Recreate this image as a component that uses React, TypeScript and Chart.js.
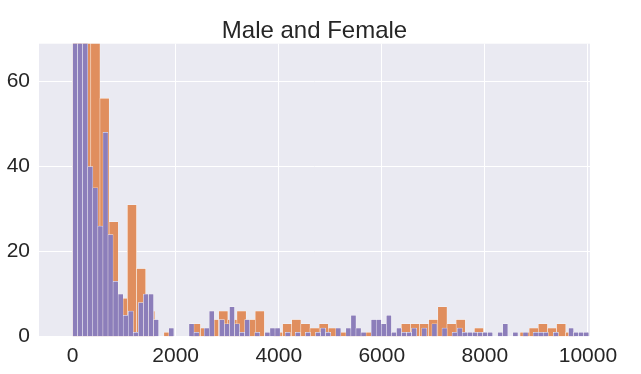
import React, { useEffect, useRef } from "react";
import { Chart, registerables } from "chart.js";

Chart.register(...registerables);

const TITLE = "Male and Female";
const X_TICKS = [0, 2000, 4000, 6000, 8000, 10000];
const Y_TICKS = [0, 20, 40, 60];
const X_MIN = -652;
const X_MAX = 10040;
const Y_MIN = 0;
const Y_MAX = 68.85;

// orange histogram (wider bins)
const ORANGE_BIN_START = 0;
const ORANGE_BIN_WIDTH = 177.2;
const ORANGE_COUNTS = [
  140, 95, 75, 56, 27, 9, 31, 16, 6, 0,
  1, 0, 0, 3, 2, 4, 6, 4, 6, 4,
  6, 0, 1, 3, 4, 3, 2, 3, 2, 1,
  1, 1, 1, 2, 1, 1, 3, 3, 3, 4,
  7, 3, 4, 0, 2, 0, 0, 0, 0, 1,
  2, 3, 2, 3, 1, 0, 0,
];

// purple histogram (narrower bins)
const PURPLE_BIN_START = 0;
const PURPLE_BIN_WIDTH = 98.2;
const PURPLE_COUNTS = [
  150, 110, 75, 40, 35, 26, 48, 24, 13, 10,
  5, 6, 1, 8, 10, 10, 4, 0, 0, 2,
  0, 0, 0, 3, 1, 0, 2, 6, 0, 4,
  3, 7, 3, 1, 4, 0, 1, 0, 1, 2,
  2, 0, 1, 0, 1, 0, 1, 0, 1, 2,
  1, 0, 2, 0, 2, 5, 2, 1, 0, 4,
  4, 3, 5, 1, 2, 1, 1, 2, 0, 2,
  0, 3, 0, 2, 0, 1, 2, 1, 1, 1,
  1, 1, 1, 0, 1, 3, 0, 1, 0, 1,
  0, 1, 1, 1, 0, 1, 0, 0, 2, 1,
  1, 1,
];

const ORANGE = "rgb(224,142,94)";
const PURPLE = "rgb(140,126,186)";
const AXES_BG = "#EAEAF2";
const TEXT = "#262626";
const FONT = "'Liberation Sans', Arial, sans-serif";

const toBars = (counts: number[], start: number, width: number) =>
  counts.map((c, i) => ({ x: start + (i + 0.5) * width, y: c }));

const bgPlugin = {
  id: "axesBg",
  beforeDraw(chart: any) {
    const { ctx, chartArea: a } = chart;
    ctx.save();
    ctx.fillStyle = "#ffffff";
    ctx.fillRect(0, 0, chart.width, chart.height);
    ctx.fillStyle = AXES_BG;
    ctx.fillRect(a.left, a.top, a.right - a.left, a.bottom - a.top);
    ctx.restore();
  },
  afterDraw(chart: any) {
    const { ctx, chartArea: a } = chart;
    ctx.save();
    ctx.fillStyle = TEXT;
    ctx.font = `normal 24px ${FONT}`;
    ctx.textAlign = "center";
    ctx.textBaseline = "alphabetic";
    ctx.fillText(TITLE, (a.left + a.right) / 2, a.top - 6);
    ctx.restore();
  },
};

export default function App() {
  const ref = useRef<HTMLCanvasElement | null>(null);

  useEffect(() => {
    if (!ref.current) return;
    const setTicks = (vals: number[]) => (scale: any) => {
      scale.ticks = vals.map((v) => ({ value: v }));
    };
    const chart = new Chart(ref.current, {
      type: "bar",
      data: {
        datasets: [
          {
            label: "Female",
            data: toBars(PURPLE_COUNTS, PURPLE_BIN_START, PURPLE_BIN_WIDTH),
            backgroundColor: PURPLE,
            borderColor: "#ffffff",
            borderWidth: 0.5,
            barPercentage: 1,
            categoryPercentage: 1,
            grouped: false,
            xAxisID: "x",
          } as any,
          {
            label: "Male",
            data: toBars(ORANGE_COUNTS, ORANGE_BIN_START, ORANGE_BIN_WIDTH),
            backgroundColor: ORANGE,
            borderColor: "#ffffff",
            borderWidth: 0.5,
            barPercentage: 1,
            categoryPercentage: 1,
            grouped: false,
            xAxisID: "x2",
          } as any,
        ],
      },
      options: {
        responsive: false,
        animation: false,
        devicePixelRatio: 1,
        layout: { padding: { left: 0, right: 51, top: 43.7, bottom: 0 } },
        plugins: {
          legend: { display: false },
          tooltip: { enabled: false },
          title: { display: false },
        },
        scales: {
          x: {
            type: "linear",
            position: "bottom",
            offset: false,
            min: X_MIN,
            max: X_MAX,
            afterBuildTicks: setTicks(X_TICKS),
            afterFit: (s: any) => {
              s.height = 37.3;
            },
            grid: { color: "#ffffff", lineWidth: 1, drawTicks: false, offset: false },
            border: { display: false },
            ticks: {
              color: TEXT,
              font: { family: FONT, size: 21 },
              padding: 7,
              maxRotation: 0,
              autoSkip: false,
              callback: (v: any) => String(v),
            },
          },
          x2: {
            type: "linear",
            display: false,
            offset: false,
            min: X_MIN,
            max: X_MAX,
            afterBuildTicks: setTicks(X_TICKS),
          },
          y: {
            type: "linear",
            min: Y_MIN,
            max: Y_MAX,
            afterBuildTicks: setTicks(Y_TICKS),
            afterFit: (s: any) => {
              s.width = 39;
            },
            grid: { color: "#ffffff", lineWidth: 1, drawTicks: false },
            border: { display: false },
            ticks: {
              color: TEXT,
              font: { family: FONT, size: 21 },
              padding: 9,
              callback: (v: any) => String(v),
            },
          },
        },
      } as any,
      plugins: [bgPlugin],
    });
    return () => chart.destroy();
  }, []);

  return (
    <div
      style={{
        position: "absolute",
        left: 0,
        top: 0,
        width: 641,
        height: 374,
        background: "#ffffff",
      }}
    >
      <canvas ref={ref} width={641} height={374} style={{ display: "block" }} />
    </div>
  );
}
